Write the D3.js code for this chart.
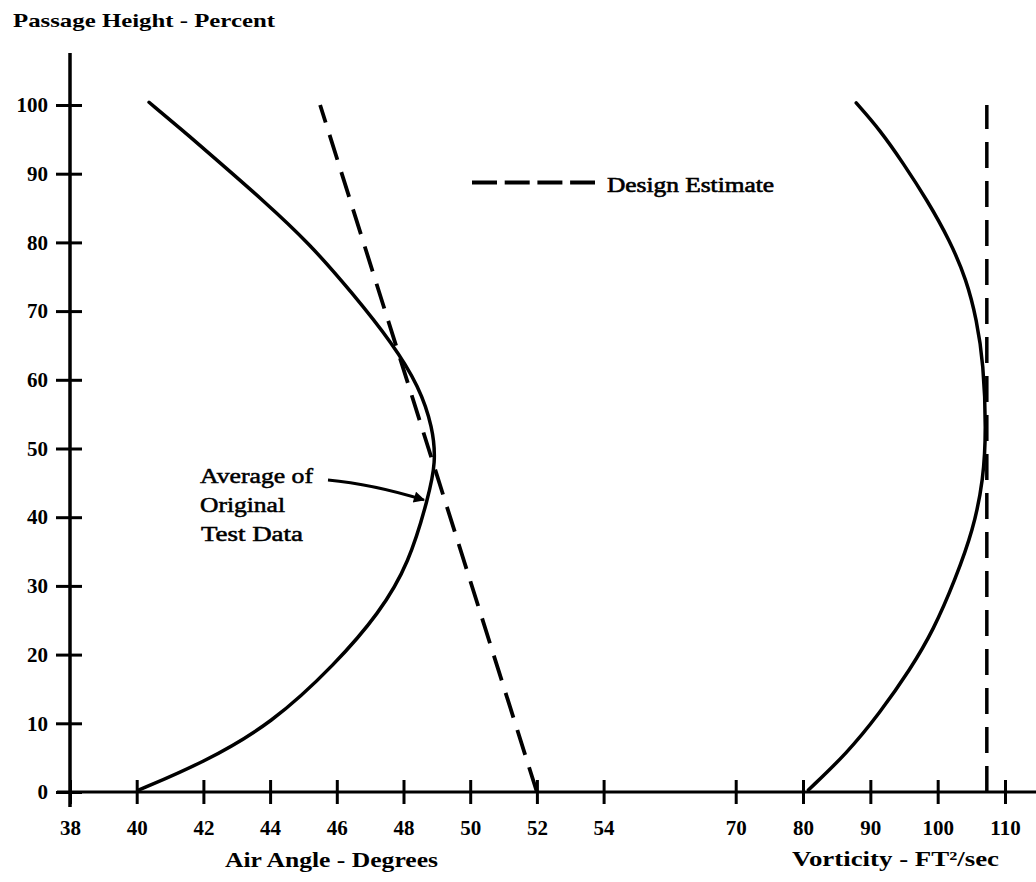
<!DOCTYPE html>
<html><head><meta charset="utf-8">
<script src="https://cdn.jsdelivr.net/npm/d3@7"></script>
<style>
html,body{margin:0;padding:0;background:#fff;}
svg{display:block;}
text{font-family:"Liberation Serif",serif;fill:#000;}
</style></head>
<body>
<svg id="chart" width="1036" height="882"></svg>
<script>
// ---- data ----
const heightTicks = [0,10,20,30,40,50,60,70,80,90,100];
const angleTicks = [38,40,42,44,46,48,50,52,54];
const vortTicks = [70,80,90,100,110];

// Average of original test data - air angle (deg) vs passage height (%)
const angleHeights = [0.3,4.2,10,18.7,26,33.3,43,48,53,59,65.3,72.6,79.9,86.2,91.7,96,100.4];
const angleValues  = [40.07,41.97,44.07,45.97,47.27,48.17,48.75,48.97,48.88,48.47,47.67,46.47,45.17,43.77,42.47,41.45,40.37];

// Average of original test data - vorticity (ft^2/sec) vs passage height (%)
const vortHeights = [0.3,5.6,11.5,17.8,23.6,30.9,38.2,45.5,52.7,62.4,68.7,74.5,80.3,86.2,91.5,96.4,100.3];
const vortValues  = [80.8,86.5,91.4,95.9,99.4,102.6,105.3,106.8,107.2,106.8,105.8,104.3,101.8,98.4,94.9,91.4,87.9];

// Design estimate
const designHeights = [0,100];
const designAngle = [52,45.5];
const designVort = [107.3,107.3];

// ---- scales ----
const svg = d3.select("#chart");
const y = d3.scaleLinear().domain([0,100]).range([792,105]);
const xA = d3.scaleLinear().domain([38,54]).range([70,603.6]);
const xV = d3.scaleLinear().domain([70,110]).range([735.7,1005]);

const ink = "#000";

// ---- axes ----
svg.append("line").attr("x1",xA(38)).attr("x2",xA(38)).attr("y1",53).attr("y2",807)
  .attr("stroke",ink).attr("stroke-width",3.5);
const yAxis = svg.append("g").attr("transform",`translate(${xA(38)},0)`)
  .call(d3.axisLeft(y).tickValues(heightTicks).tickSize(0).tickPadding(22).tickFormat(d3.format("d")));
yAxis.select(".domain").remove();
yAxis.selectAll(".tick line").attr("x1",-14).attr("x2",12).attr("stroke",ink).attr("stroke-width",3);
yAxis.selectAll(".tick text").style("font-size","21px").style("font-weight","bold");

svg.append("line").attr("x1",57).attr("x2",1036).attr("y1",y(0)).attr("y2",y(0))
  .attr("stroke",ink).attr("stroke-width",3);

const xAxisA = svg.append("g").attr("transform",`translate(0,${y(0)})`)
  .call(d3.axisBottom(xA).tickValues(angleTicks).tickSize(0).tickFormat(d3.format("d")));
const xAxisV = svg.append("g").attr("transform",`translate(0,${y(0)})`)
  .call(d3.axisBottom(xV).tickValues(vortTicks).tickSize(0).tickFormat(d3.format("d")));
[xAxisA,xAxisV].forEach(g=>{
  g.select(".domain").remove();
  g.selectAll(".tick line").attr("y1",-12).attr("y2",12).attr("stroke",ink).attr("stroke-width",3);
  g.selectAll(".tick text").style("font-size","21px").style("font-weight","bold").attr("y",43).attr("dy","0");
});

// axis titles
svg.append("text").attr("x",13).attr("y",27).text("Passage Height - Percent")
  .style("font-size","19px").style("font-weight","bold").attr("textLength",262).attr("lengthAdjust","spacingAndGlyphs");
svg.append("text").attr("x",225).attr("y",867).text("Air Angle - Degrees")
  .style("font-size","21px").style("font-weight","bold").attr("textLength",213).attr("lengthAdjust","spacingAndGlyphs");
svg.append("text").attr("x",792).attr("y",866).text("Vorticity - FT²/sec")
  .style("font-size","21px").style("font-weight","bold").attr("textLength",207).attr("lengthAdjust","spacingAndGlyphs");

// ---- curves ----
const angleData = angleHeights.map((h,i)=>({h, v:angleValues[i]}));
const vortData = vortHeights.map((h,i)=>({h, v:vortValues[i]}));
const lineA = d3.line().x(d=>xA(d.v)).y(d=>y(d.h)).curve(d3.curveBasis);
const lineV = d3.line().x(d=>xV(d.v)).y(d=>y(d.h)).curve(d3.curveBasis);

svg.append("path").datum(angleData).attr("d",lineA).attr("fill","none")
  .attr("stroke",ink).attr("stroke-width",3.5).attr("stroke-linecap","round");
svg.append("path").datum(vortData).attr("d",lineV).attr("fill","none")
  .attr("stroke",ink).attr("stroke-width",3.5).attr("stroke-linecap","round");

const dAngle = designHeights.map((h,i)=>({h, v:designAngle[i]}));
const dVort = designHeights.map((h,i)=>({h, v:designVort[i]}));
svg.append("path").datum(dAngle).attr("d",d3.line().x(d=>xA(d.v)).y(d=>y(d.h)))
  .attr("fill","none").attr("stroke",ink).attr("stroke-width",3.8).attr("stroke-dasharray","26,13");
svg.append("path").datum(dVort).attr("d",d3.line().x(d=>xV(d.v)).y(d=>y(d.h)))
  .attr("fill","none").attr("stroke",ink).attr("stroke-width",3.5).attr("stroke-dasharray","26,13");

// ---- legend ----
svg.append("line").attr("x1",472).attr("x2",595).attr("y1",182.5).attr("y2",182.5)
  .attr("stroke",ink).attr("stroke-width",4).attr("stroke-dasharray","25,7.7");
svg.append("text").attr("x",607).attr("y",192).text("Design Estimate")
  .style("font-size","20px").attr("stroke",ink).attr("stroke-width",0.6)
  .attr("textLength",167).attr("lengthAdjust","spacingAndGlyphs");

// ---- annotation ----
const ann = svg.append("g").style("font-size","20px").attr("stroke",ink).attr("stroke-width",0.5);
ann.append("text").attr("x",200).attr("y",483).text("Average of").attr("textLength",113).attr("lengthAdjust","spacingAndGlyphs");
ann.append("text").attr("x",200).attr("y",512).text("Original").attr("textLength",85).attr("lengthAdjust","spacingAndGlyphs");
ann.append("text").attr("x",201).attr("y",541).text("Test Data").attr("textLength",102).attr("lengthAdjust","spacingAndGlyphs");

svg.append("defs").append("marker").attr("id","arr").attr("viewBox","0 0 10 10")
  .attr("refX",9).attr("refY",5).attr("markerWidth",5).attr("markerHeight",4).attr("orient","auto")
  .attr("markerUnits","strokeWidth")
  .append("path").attr("d","M0,0 L10,5 L0,10 Z").attr("fill",ink);
svg.append("path").attr("d","M328,480 Q372,484 424,500").attr("fill","none")
  .attr("stroke",ink).attr("stroke-width",2.8).attr("marker-end","url(#arr)");
</script>
</body></html>
